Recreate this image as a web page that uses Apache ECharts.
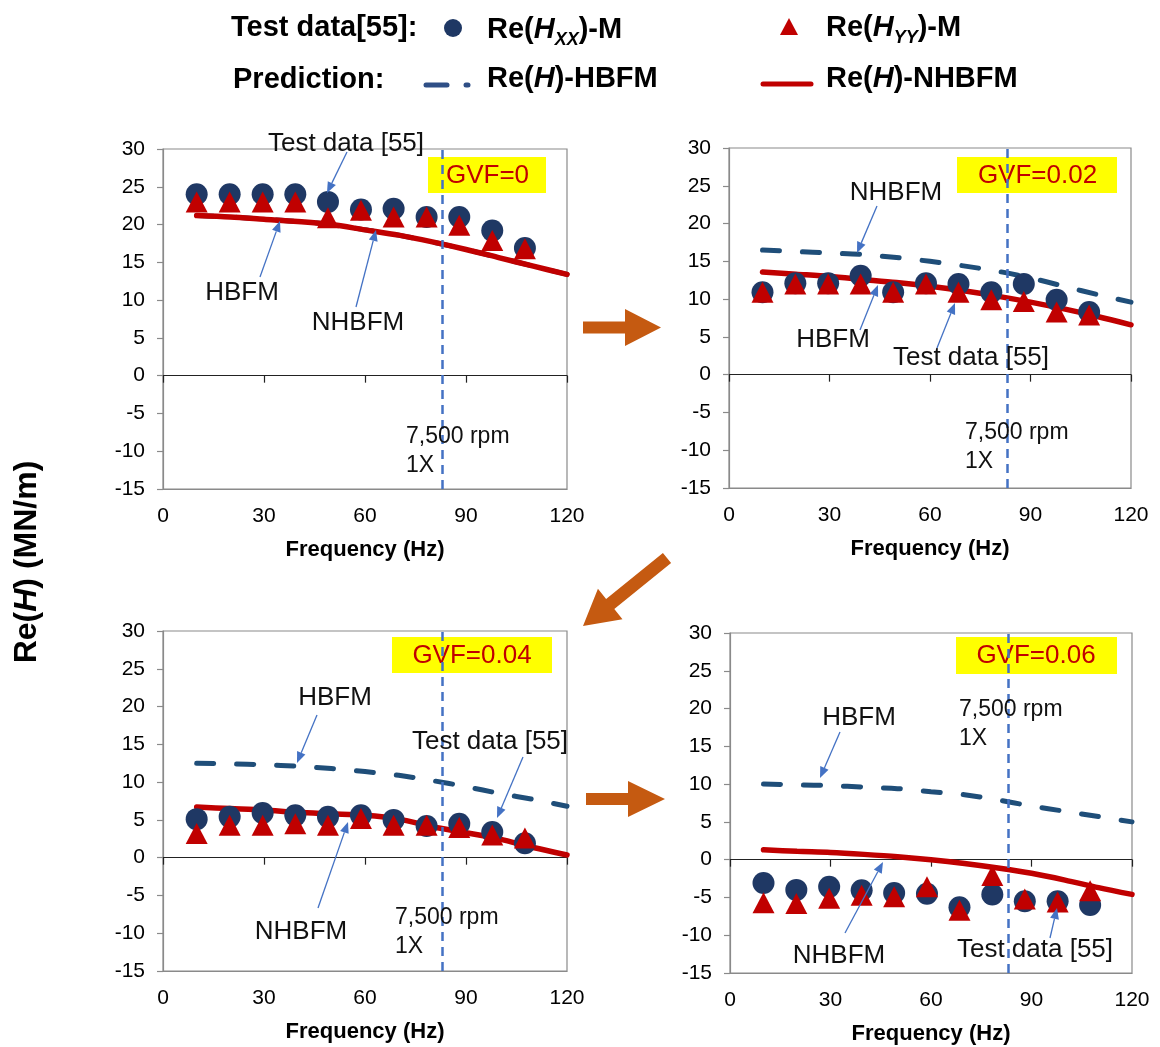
<!DOCTYPE html>
<html>
<head>
<meta charset="utf-8">
<script src="https://cdn.jsdelivr.net/npm/echarts@6/dist/echarts.min.js"></script>
<style>
html,body{margin:0;padding:0;background:#fff;}
#main{width:1160px;height:1047px;}
</style>
</head>
<body>
<div id="main"></div>
<script>
// ---------------- DATA ----------------
const freqTest = [10, 19.8, 29.6, 39.3, 49, 58.8, 68.5, 78.3, 88, 97.8, 107.5];
const freqPred = [10, 20, 30, 40, 50, 60, 70, 80, 90, 100, 110, 120];
const rpm1X = 83;
const xTicks = [0, 30, 60, 90, 120];
const yTicks = [-15, -10, -5, 0, 5, 10, 15, 20, 25, 30];

// GVF = 0
const gvf0Hxx   = [24, 24, 24, 24, 23, 22, 22.1, 21, 21, 19.2, 16.9];
const gvf0Hyy   = [23, 23, 23, 23, 20.9, 21.9, 21, 21, 19.9, 17.9, 16.8];
const gvf0Hbfm  = [21.2, 21.0, 20.7, 20.4, 20.0, 19.3, 18.6, 17.7, 16.7, 15.6, 14.5, 13.4];
const gvf0Nhbfm = [21.2, 21.0, 20.7, 20.4, 20.0, 19.3, 18.6, 17.7, 16.7, 15.6, 14.5, 13.4];
// GVF = 0.02
const gvf2Hxx   = [10.9, 12.1, 12.1, 13.1, 10.9, 12.1, 12.0, 10.9, 12.0, 9.9, 8.3];
const gvf2Hyy   = [10.9, 12, 12, 12, 10.9, 12, 10.9, 9.9, 9.7, 8.3, 7.9];
const gvf2Hbfm  = [16.5, 16.3, 16.1, 15.9, 15.5, 15.0, 14.4, 13.7, 12.8, 11.7, 10.6, 9.6];
const gvf2Nhbfm = [13.6, 13.3, 13.0, 12.6, 12.2, 11.7, 11.1, 10.4, 9.6, 8.7, 7.7, 6.6];
// GVF = 0.04
const gvf4Hxx   = [5.1, 5.4, 5.9, 5.6, 5.4, 5.6, 5.0, 4.2, 4.5, 3.4, 1.9];
const gvf4Hyy   = [3.2, 4.3, 4.3, 4.5, 4.3, 5.2, 4.3, 4.3, 4.0, 3.0, 2.6];
const gvf4Hbfm  = [12.5, 12.4, 12.3, 12.1, 11.8, 11.4, 10.9, 10.2, 9.4, 8.5, 7.7, 6.8];
const gvf4Nhbfm = [6.7, 6.5, 6.3, 6.0, 5.8, 5.6, 5.1, 4.1, 3.3, 2.45, 1.35, 0.35];
// GVF = 0.06
const gvf6Hxx   = [-3.1, -4.0, -3.6, -4.05, -4.4, -4.5, -6.3, -4.6, -5.5, -5.5, -6.0];
const gvf6Hyy   = [-5.7, -5.8, -5.1, -4.7, -4.9, -3.6, -6.7, -2.1, -5.2, -5.6, -4.1];
const gvf6Hbfm  = [10.0, 9.9, 9.8, 9.6, 9.4, 9.0, 8.6, 7.9, 7.1, 6.4, 5.7, 5.0];
const gvf6Nhbfm = [1.3, 1.1, 0.95, 0.7, 0.4, 0.0, -0.5, -1.1, -1.8, -2.7, -3.7, -4.6];

const gvfLabels = ['GVF=0', 'GVF=0.02', 'GVF=0.04', 'GVF=0.06'];

// ---------------- STYLE / LAYOUT ----------------
const FONT = 'Liberation Sans, Arial, sans-serif';
const NAVY = '#1F3864';
const DASHBLUE = '#1F4E79';
const RED = '#C00000';
const ABLUE = '#4472C4';
const ORANGE = '#C55A11';

const grids = [
  {left: 163, top: 149, width: 404, height: 340},
  {left: 729, top: 148, width: 402, height: 340},
  {left: 163, top: 631, width: 404, height: 340},
  {left: 730, top: 633, width: 402, height: 340}
];
const panels = [
  {xx: gvf0Hxx, yy: gvf0Hyy, hb: gvf0Hbfm, nh: gvf0Nhbfm},
  {xx: gvf2Hxx, yy: gvf2Hyy, hb: gvf2Hbfm, nh: gvf2Nhbfm},
  {xx: gvf4Hxx, yy: gvf4Hyy, hb: gvf4Hbfm, nh: gvf4Nhbfm},
  {xx: gvf6Hxx, yy: gvf6Hyy, hb: gvf6Hbfm, nh: gvf6Nhbfm}
];
const pair = (xs, ys) => xs.map((x, i) => [x, ys[i]]);

const option = {
  backgroundColor: '#fff',
  animation: false,
  grid: grids.map(g => Object.assign({show: true, borderColor: '#8a8a8a', borderWidth: 1.2, backgroundColor: 'transparent'}, g)),
  xAxis: [],
  yAxis: [],
  series: [],
  graphic: []
};

grids.forEach((g, i) => {
  // label axis at bottom of box
  option.xAxis.push({
    type: 'value', gridIndex: i, min: xTicks[0], max: xTicks[xTicks.length - 1], interval: 30,
    position: 'bottom',
    axisLine: {onZero: false, show: true, lineStyle: {color: '#8a8a8a', width: 1.2}},
    axisTick: {show: false},
    splitLine: {show: false},
    axisLabel: {color: '#000', fontFamily: FONT, fontSize: 21, margin: 17},
    name: 'Frequency (Hz)', nameLocation: 'middle', nameGap: 50,
    nameTextStyle: {color: '#000', fontFamily: FONT, fontSize: 22, fontWeight: 'bold'}
  });
  // zero line axis with ticks
  option.xAxis.push({
    type: 'value', gridIndex: i, min: xTicks[0], max: xTicks[xTicks.length - 1], interval: 30,
    position: 'bottom',
    axisLine: {onZero: true, show: true, lineStyle: {color: '#222', width: 1.2}},
    axisTick: {show: true, length: 7, lineStyle: {color: '#222', width: 1.2}},
    axisLabel: {show: false},
    splitLine: {show: false}
  });
  option.yAxis.push({
    type: 'value', gridIndex: i, min: yTicks[0], max: yTicks[yTicks.length - 1], interval: 5,
    axisLine: {show: true, onZero: false, lineStyle: {color: '#8a8a8a', width: 1.2}},
    axisTick: {show: true, length: 6, lineStyle: {color: '#8a8a8a', width: 1.2}},
    splitLine: {show: false},
    axisLabel: {color: '#000', fontFamily: FONT, fontSize: 21, margin: 18}
  });
  const p = panels[i];
  const xi = i * 2;
  option.series.push({
    type: 'line', xAxisIndex: xi, yAxisIndex: i, data: pair(freqPred, p.hb),
    showSymbol: false, smooth: 0.3,
    lineStyle: {color: DASHBLUE, width: 5, type: [17, 23], cap: 'round'},
    markLine: {
      silent: true, symbol: 'none', label: {show: false},
      lineStyle: {color: ABLUE, type: [9, 6], width: 2.5},
      data: [{xAxis: rpm1X}]
    },
    z: 3
  });
  option.series.push({
    type: 'line', xAxisIndex: xi, yAxisIndex: i, data: pair(freqPred, p.nh),
    showSymbol: false, smooth: 0.3,
    lineStyle: {color: RED, width: 5.5, cap: 'round'}, z: 3
  });
  option.series.push({
    type: 'scatter', xAxisIndex: xi, yAxisIndex: i, data: pair(freqTest, p.xx),
    symbol: 'circle', symbolSize: 22, itemStyle: {color: NAVY, opacity: 1}, z: 4
  });
  option.series.push({
    type: 'scatter', xAxisIndex: xi, yAxisIndex: i, data: pair(freqTest, p.yy),
    symbol: 'triangle', symbolSize: [22, 21], itemStyle: {color: RED, opacity: 1}, z: 5
  });
});

// ---------------- GRAPHICS ----------------
const G = option.graphic;
function txt(text, x, y, opts) {
  opts = opts || {};
  G.push({
    type: 'text', x: x, y: y, z: opts.z != null ? opts.z : 20,
    style: Object.assign({
      text: text, fill: opts.fill || '#111', fontFamily: FONT,
      fontSize: opts.fontSize || 26, fontWeight: opts.fontWeight || 'normal',
      align: opts.align || 'center', textAlign: opts.align || 'center',
      verticalAlign: opts.va || 'middle', textVerticalAlign: opts.va || 'middle',
      lineHeight: opts.lineHeight
    }, opts.extra || {})
  });
}
function thinArrow(x1, y1, x2, y2) {
  const dx = x2 - x1, dy = y2 - y1, L = Math.hypot(dx, dy);
  const ux = dx / L, uy = dy / L, nx = -uy, ny = ux;
  const hl = 11, hw = 4.5;
  const bx = x2 - ux * hl, by = y2 - uy * hl;
  G.push({type: 'line', z: 20, shape: {x1: x1, y1: y1, x2: bx, y2: by}, style: {stroke: ABLUE, lineWidth: 1.3}});
  G.push({type: 'polygon', z: 20, shape: {points: [[x2, y2], [bx + nx * hw, by + ny * hw], [bx - nx * hw, by - ny * hw]]}, style: {fill: ABLUE}});
}
function blockArrow(tx, ty, hx, hy, sw, hw, hl) {
  const dx = hx - tx, dy = hy - ty, L = Math.hypot(dx, dy);
  const ux = dx / L, uy = dy / L, nx = -uy, ny = ux;
  const bx = hx - ux * hl, by = hy - uy * hl;
  const pts = [
    [tx + nx * sw / 2, ty + ny * sw / 2],
    [bx + nx * sw / 2, by + ny * sw / 2],
    [bx + nx * hw / 2, by + ny * hw / 2],
    [hx, hy],
    [bx - nx * hw / 2, by - ny * hw / 2],
    [bx - nx * sw / 2, by - ny * sw / 2],
    [tx - nx * sw / 2, ty - ny * sw / 2]
  ];
  G.push({type: 'polygon', z: 20, shape: {points: pts}, style: {fill: ORANGE}});
}

// GVF yellow boxes
const gvfBoxes = [
  {x: 428, y: 157, w: 118, h: 36, cx: 487.5, cy: 176},
  {x: 957, y: 157, w: 160, h: 36, cx: 1037.5, cy: 176},
  {x: 392, y: 637, w: 160, h: 36, cx: 472, cy: 656},
  {x: 956, y: 637, w: 161, h: 37, cx: 1036, cy: 656}
];
gvfBoxes.forEach((b, i) => {
  G.push({type: 'rect', z: 0, shape: {x: b.x, y: b.y, width: b.w, height: b.h}, style: {fill: '#FFFF00'}});
  txt(gvfLabels[i], b.cx, b.cy, {fill: RED, fontSize: 26, z: 1});
});

// annotations - panel 1
txt('Test data [55]', 346, 144);
txt('HBFM', 242, 293);
txt('NHBFM', 358, 323);
txt('7,500 rpm\n1X', 406, 422, {align: 'left', va: 'top', fontSize: 23, lineHeight: 29});
thinArrow(347, 152, 327, 193);
thinArrow(260, 277, 280, 221);
thinArrow(356, 307, 376, 230);
// panel 2
txt('NHBFM', 896, 193);
txt('HBFM', 833, 340);
txt('Test data [55]', 971, 358);
txt('7,500 rpm\n1X', 965, 418, {align: 'left', va: 'top', fontSize: 23, lineHeight: 29});
thinArrow(877, 206, 857, 253);
thinArrow(860, 330, 878, 285);
thinArrow(937, 348, 955, 303);
// panel 3
txt('HBFM', 335, 698);
txt('Test data [55]', 490, 742);
txt('NHBFM', 301, 932);
txt('7,500 rpm\n1X', 395, 903, {align: 'left', va: 'top', fontSize: 23, lineHeight: 29});
thinArrow(317, 715, 297, 763);
thinArrow(523, 757, 497, 818);
thinArrow(318, 908, 348, 822);
// panel 4
txt('HBFM', 859, 718);
txt('7,500 rpm\n1X', 959, 695, {align: 'left', va: 'top', fontSize: 23, lineHeight: 29});
txt('NHBFM', 839, 956);
txt('Test data [55]', 1035, 950);
thinArrow(840, 732, 820, 778);
thinArrow(845, 933, 883, 862);
thinArrow(1050, 938, 1057, 908);

// orange flow arrows
blockArrow(583, 327.5, 661, 327.5, 12, 37, 36);
blockArrow(667, 558, 583, 626, 13, 39, 35);
blockArrow(586, 799, 665, 799, 12, 36, 37);

// legend
const richL = {
  b: {fontFamily: FONT, fontSize: 29, fontWeight: 'bold', fill: '#000', color: '#000', lineHeight: 38, verticalAlign: 'middle'},
  i: {fontFamily: FONT, fontSize: 29, fontWeight: 'bold', fontStyle: 'italic', fill: '#000', color: '#000', lineHeight: 38, verticalAlign: 'middle'},
  s: {fontFamily: FONT, fontSize: 18, fontWeight: 'bold', fontStyle: 'italic', fill: '#000', color: '#000', lineHeight: 18, verticalAlign: 'bottom'}
};
function richTxt(text, x, y) {
  G.push({type: 'text', x: x, y: y, z: 20, style: {text: text, rich: richL, align: 'left', textAlign: 'left', verticalAlign: 'middle', textVerticalAlign: 'middle', fontFamily: FONT, fontSize: 29, fontWeight: 'bold', fill: '#000'}});
}
txt('Test data[55]:', 231, 28, {align: 'left', fontSize: 29, fontWeight: 'bold', fill: '#000'});
G.push({type: 'circle', z: 20, shape: {cx: 453, cy: 28, r: 9}, style: {fill: NAVY}});
richTxt('{b|Re(}{i|H}{s|XX}{b|)-M}', 487, 30);
G.push({type: 'polygon', z: 20, shape: {points: [[780, 35], [798, 35], [789, 18]]}, style: {fill: RED}});
richTxt('{b|Re(}{i|H}{s|YY}{b|)-M}', 826, 28);
txt('Prediction:', 233, 80, {align: 'left', fontSize: 29, fontWeight: 'bold', fill: '#000'});
G.push({type: 'line', z: 20, shape: {x1: 426, y1: 85, x2: 447, y2: 85}, style: {stroke: '#2F4F86', lineWidth: 5, lineCap: 'round'}});
G.push({type: 'line', z: 20, shape: {x1: 466, y1: 85, x2: 468, y2: 85}, style: {stroke: '#2F4F86', lineWidth: 5, lineCap: 'round'}});
richTxt('{b|Re(}{i|H}{b|)-HBFM}', 487, 79);
G.push({type: 'line', z: 20, shape: {x1: 763, y1: 84, x2: 811, y2: 84}, style: {stroke: RED, lineWidth: 5, lineCap: 'round'}});
richTxt('{b|Re(}{i|H}{b|)-NHBFM}', 826, 79);

// y-axis title
G.push({
  type: 'text', x: 27, y: 562, rotation: Math.PI / 2, z: 20,
  style: {
    text: '{b|Re(}{i|H}{b|) (MN/m)}',
    rich: {
      b: {fontFamily: FONT, fontSize: 32, fontWeight: 'bold', fill: '#000', color: '#000'},
      i: {fontFamily: FONT, fontSize: 32, fontWeight: 'bold', fontStyle: 'italic', fill: '#000', color: '#000'}
    },
    align: 'center', textAlign: 'center', verticalAlign: 'middle', textVerticalAlign: 'middle'
  }
});

const chart = echarts.init(document.getElementById('main'), null, {renderer: 'canvas'});
chart.setOption(option);
</script>
</body>
</html>
